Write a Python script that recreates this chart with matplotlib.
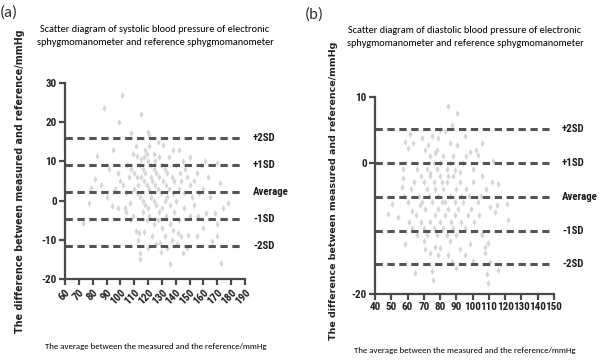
import matplotlib
matplotlib.use("Agg")
import matplotlib.pyplot as plt
from matplotlib import font_manager

# ---------------- data ----------------
sys_mean = [101, 88, 115, 99, 108, 120, 121, 95, 138, 142, 83, 121, 131, 112, 115, 161, 169.5,
            82, 79, 77, 73, 94, 98.5, 103, 107, 111, 113.6, 113, 114, 114, 128.6, 135.8, 145.4,
            138, 141.8, 149, 156, 162, 168, 172, 178, 174, 173, 166, 169.5,
            105, 108, 110, 112, 114, 116, 118, 120, 122, 124, 126, 128, 130, 132, 117, 119, 121,
            123, 125, 127, 129, 131, 133, 135, 110, 112, 114, 116, 118, 120, 122, 124, 126, 128,
            130, 132, 134, 136, 138, 140, 142, 144, 146, 148, 150, 152, 155, 158, 160, 100, 102,
            104, 106, 98, 96, 92, 90, 86, 109, 111, 118, 124, 127, 135, 140, 145, 150, 116, 119,
            121, 124, 127, 130, 133, 136, 139, 142, 146, 150, 153, 117, 123, 126, 132, 134, 137,
            141, 144, 120, 129, 148, 107, 104, 109, 113, 115, 117, 119, 122, 125, 128, 134, 137,
            139, 143, 147, 153, 157, 163, 165, 170, 160, 155]
sys_diff = [27, 23.5, 22, 20, 17.3, 17.4, 16.8, 13, 12.8, 13, 11.5, 13.9, 14.3, 11.3, 10.5, 10, 9.6,
            5.4, 3.2, -0.6, -5.7, -1.5, -1.9, -1.9, -0.6, -7.8, -8.2, -10, -13.3, -15, -10.8, -16.3, -13.3,
            -7.4, -8.2, -8.7, -4, -3.1, -3.1, 4.5, -0.6, -1.9, -15.9, -10.4, -9.1,
            9, 8, 7, 6, 9, 8, 7, 10, 9, 8, 7, 6, 9, 8, 5, 4, 3,
            5, 4, 3, 2, 5, 4, 3, 3, 2, 1, 0, -1, -2, 1, 0, -1, -3,
            -2, 0, 1, -1, 2, 0, 3, 5, 2, 6, 4, 1, 7, 9, 3, 5, 4,
            2, 6, 7, 3, 8, 1, 4, 12, 14, 13, 12, 15, 11, 9, 10, 11, -3, -5,
            -4, -6, -5, -7, -4, -6, -3, -5, -2, -4, -1, -8, -9, -11, -9, -12, -10,
            -11, -9, -12, -13, -12, -5, -3, -4, 4, 6, 11, 12, 6, 10, 11, 7, 6,
            5, 7, 8, 5, 2, 6, 1, -6, -7, -9]

dia_mean = [84.7, 90.2, 87.1, 61.5, 68.7, 58.4, 63.5, 72.8, 78.9, 83, 86.1, 90.2, 105.6, 98.4, 103.5,
            60.5, 70.7, 76.9, 89.2, 92.2, 57.4, 73.8, 112.7, 57.4, 56.4, 50.2, 48.2, 54.3, 62.5, 67.7,
            58.4, 64.6, 70.7, 73.8, 76.9, 78.9, 74.8, 75.9, 87.1, 92.2, 98.4, 105.6, 107.6, 109.6, 110.7,
            115.8, 108.6, 109.6, 107.6, 110.7, 113.7, 114.8, 121, 122, 115.8, 111.7,
            66, 68, 70, 72, 74, 76, 78, 80, 82, 84, 86, 88, 90, 92, 94, 96, 98, 100,
            67, 69, 71, 73, 75, 77, 79, 81, 83, 85, 87, 89, 91, 93, 95, 97, 99, 101, 103, 105,
            68, 70, 72, 74, 76, 78, 80, 82, 84, 86, 88, 90, 64, 62, 60, 58, 65, 63, 61,
            80, 82, 84, 86, 88, 78, 76, 74, 94, 96, 100, 102, 106, 108, 95, 80, 75,
            70, 80, 85, 95, 100, 66, 90, 104, 106, 72, 77, 81, 85, 89, 93, 79, 83]
dia_diff = [8.6, 7.6, 5.8, 4.3, 3.7, 3.2, 3, 2.7, 3.7, 4.8, 3, 2.7, 3, 1.7, 1.2,
            2.2, 2, 1.4, -1.1, -1.4, -0.9, -1.6, 0.2, -2.4, -3.7, -6.3, -7.8, -8.3, -7.3, -6.5,
            -12.4, -16.8, -13.2, -13.7, -12.9, -14, -16.5, -17.8, -15.2, -13.2, -12.4, -10.9, -13.7, -12.2, -15.2,
            -16.3, -17, -18.3, -12.9, -6.8, -7.5, -6.5, -6.3, -8.8, -3.2, -2.9,
            -1, -2, -3, -4, -2, -3, -1, -2, -4, -3, -5, -2, -4, -3, -6, -4, -5, -3,
            -5, -6, -7, -5, -6, -8, -7, -6, -8, -7, -9, -8, -7, -9, -10, -8, -7, -9, -6, -5,
            -9, -10, -11, -9, -10, -11, -9, -10, -11, -12, -10, -11, -3, -4, -6, -5, -8, -10, -9,
            0, 1, -1, 0, 1, 2, 0, 1, 0, 1, -1, 2, -2, -4, 4, 5, 4,
            -12, -13, -14, -14, -15, -11, -16, -8, -11, -1, -4, -3, -2, -6, -5, -5, -6]

sys_lines = [16.0, 9.1, 2.2, -4.7, -11.6]
dia_lines = [5.1, 0.0, -5.2, -10.4, -15.5]
line_labels = ["+2SD", "+1SD", "Average", "-1SD", "-2SD"]

sys_xticks = list(range(60, 200, 10))
sys_yticks = [-20, -10, 0, 10, 20, 30]
dia_xticks = list(range(40, 160, 10))
dia_yticks = [-20, 0, 10]

titles = ["Scatter diagram of systolic blood pressure of electronic\nsphygmomanometer and reference sphygmomanometer",
          "Scatter diagram of diastolic blood pressure of electronic\nsphygmomanometer and reference sphygmomanometer"]
xlabel = "The average between the measured and the reference/mmHg"
ylabel = "The difference between measured and reference/mmHg"

# ---------------- fonts ----------------
weights = {}
for f in font_manager.fontManager.ttflist:
    w = f.weight if isinstance(f.weight, int) else 400
    if f.style == "normal":
        weights.setdefault(f.name, set()).add(w)

def pick_bold(names, default):
    for n in names:
        if n in weights and any(w >= 600 for w in weights[n]):
            return n, True
    return default, False

narrow, is_narrow = pick_bold(["Liberation Sans Narrow", "Arial Narrow", "Archivo Narrow",
                               "Roboto Condensed", "PT Sans Narrow", "Pragati Narrow",
                               "Open Sans Condensed", "Encode Sans Condensed"], "DejaVu Sans")
if not is_narrow:
    narrow, _ = pick_bold(["Liberation Sans", "Arimo", "Roboto"], "DejaVu Sans")
titlefont = "Carlito" if "Carlito" in weights else ("Lato" if "Lato" in weights else "DejaVu Sans")
has_carlito = titlefont == "Carlito"

tick_fs = 8.0 if is_narrow else 6.6
lab_fs = 7.8 if is_narrow else 6.6
title_fs = 7.4 if has_carlito else 7.0
xlab_fs = 6.3 if has_carlito else 6.0

W, H = 600, 360
fig = plt.figure(figsize=(6, 3.6), dpi=100)

def px_axes(x0, x1, ytop, ybot):
    return fig.add_axes([x0 / W, 1 - ybot / H, (x1 - x0) / W, (ybot - ytop) / H])

spine_col = "#4a4a4a"
line_col = "#555555"
pt_col = "#d6d6d6"

def setup(ax, xs, ys, xt, yt, lines, xlim, ylim, rot):
    ax.scatter(xs, ys, marker="d", s=12, color=pt_col, linewidths=0, zorder=1)
    for v, lab in zip(lines, line_labels):
        ax.plot([xlim[0], xlim[0] + (xlim[1] - xlim[0]) * 0.97], [v, v], color=line_col,
                lw=2.2, dashes=(2.4, 1.5), zorder=2, clip_on=False, solid_capstyle="butt",
                dash_capstyle="butt")
        ax.text(1.045, v, lab, transform=ax.get_yaxis_transform(), fontsize=lab_fs,
                family=narrow, fontweight="bold" if is_narrow else "normal",
                ha="left", va="center", color="#1a1a1a")
    ax.set_xlim(*xlim)
    ax.set_ylim(*ylim)
    ax.set_xticks(xt)
    ax.set_yticks(yt)
    ax.set_xticklabels([str(t) for t in xt], family=narrow, fontsize=tick_fs,
                       fontweight="bold", color="#222222")
    ax.set_yticklabels([str(t) for t in yt], family=narrow, fontsize=tick_fs,
                       fontweight="bold", color="#222222")
    for s in ["top", "right"]:
        ax.spines[s].set_visible(False)
    for s in ["left", "bottom"]:
        ax.spines[s].set_color(spine_col)
        ax.spines[s].set_linewidth(1.6)
    ax.tick_params(direction="out", length=4, width=1.6, color=spine_col, pad=2)
    if rot:
        for lab in ax.get_xticklabels():
            lab.set_rotation(45)
            lab.set_ha("right")
            lab.set_va("top")
            lab.set_rotation_mode("anchor")

ax1 = px_axes(65, 245, 83, 279)
setup(ax1, sys_mean, sys_diff, sys_xticks, sys_yticks, sys_lines, (60, 190), (-20, 30), True)
ax2 = px_axes(375, 554, 97, 294)
setup(ax2, dia_mean, dia_diff, dia_xticks, dia_yticks, dia_lines, (40, 150), (-20, 10), False)

# titles
fig.text(155 / W, 1 - 36 / H, titles[0], ha="center", va="center", fontsize=title_fs,
         family=titlefont, linespacing=1.45, color="#000000")
fig.text(465 / W, 1 - 37 / H, titles[1], ha="center", va="center", fontsize=title_fs,
         family=titlefont, linespacing=1.45, color="#000000")
# xlabels
fig.text(156 / W, 1 - 346 / H, xlabel, ha="center", va="center", fontsize=xlab_fs,
         family=titlefont, color="#000000")
fig.text(465 / W, 1 - 350 / H, xlabel, ha="center", va="center", fontsize=xlab_fs,
         family=titlefont, color="#000000")
# ylabels
fig.text(20 / W, 1 - 181 / H, ylabel, ha="center", va="center", rotation=90, fontsize=6.9,
         family="DejaVu Sans", fontweight="bold", color="#222222")
fig.text(333 / W, 1 - 191 / H, ylabel, ha="center", va="center", rotation=90, fontsize=6.8,
         family="DejaVu Sans", fontweight="bold", color="#222222")
# panel letters
fig.text(0 / W, 1 - 13 / H, "(a)", ha="left", va="center", fontsize=12, family=titlefont,
         color="#333333")
fig.text(305 / W, 1 - 15 / H, "(b)", ha="left", va="center", fontsize=12, family=titlefont,
         color="#333333")

fig.savefig("out.png", dpi=100)
